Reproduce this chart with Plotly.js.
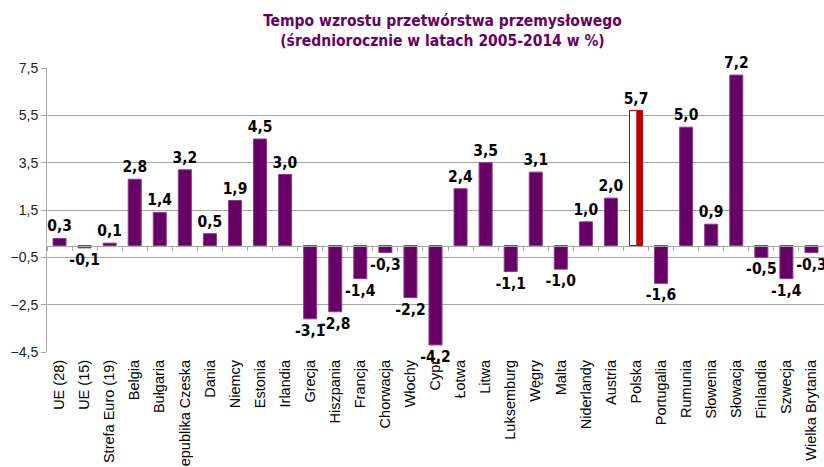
<!DOCTYPE html>
<html>
<head>
<meta charset="utf-8">
<script src="https://cdn.plot.ly/plotly-3.0.1.min.js"></script>
<style>html,body{margin:0;padding:0;background:#fff;}#chart{width:824px;height:467px;}</style>
</head>
<body>
<div id="chart"></div>
<script>
const categories = ["UE (28)","UE (15)","Strefa Euro (19)","Belgia","Bułgaria","Republika Czeska","Dania","Niemcy","Estonia","Irlandia","Grecja","Hiszpania","Francja","Chorwacja","Włochy","Cypr","Łotwa","Litwa","Luksemburg","Węgry","Malta","Niderlandy","Austria","Polska","Portugalia","Rumunia","Słowenia","Słowacja","Finlandia","Szwecja","Wielka Brytania"];
const values = [0.3,-0.1,0.1,2.8,1.4,3.2,0.5,1.9,4.5,3.0,-3.1,-2.8,-1.4,-0.3,-2.2,-4.2,2.4,3.5,-1.1,3.1,-1.0,1.0,2.0,5.7,-1.6,5.0,0.9,7.2,-0.5,-1.4,-0.3];
const highlight = "Polska";
const yTicks = [-4.5,-2.5,-0.5,1.5,3.5,5.5,7.5];

const purple = "#660066";
const red = "#C00000";
const labelFont = "'Liberation Sans Narrow','DejaVu Sans Condensed',Arial,sans-serif";
const axisFont = "'Liberation Sans',Arial,sans-serif";

const fillColors = categories.map(c => c === highlight ? "#ffffff" : purple);
const lineColors = categories.map(c => c === highlight ? red : "#8a3d8a");
const texts = values.map(v => v.toFixed(1).replace('.', ','));

const hiIdx = categories.indexOf(highlight);

const traces = [
  {
    type: "bar", x: categories, y: values,
    marker: {color: fillColors, line: {color: lineColors, width: 1}},
    width: 0.52,
    text: texts, textposition: "outside", cliponaxis: false, constraintext: "none",
    textfont: {family: labelFont, size: 15.5, color: "#000", weight: "bold"},
    hoverinfo: "x+y", showlegend: false
  },
  {
    type: "bar", x: [categories[hiIdx]], y: [values[hiIdx]],
    marker: {color: red, line: {width: 0}},
    width: 0.25, offset: 0.01,
    hoverinfo: "skip", showlegend: false
  },
  {
    type: "scatter", x: categories, y: values.map(() => 0), xaxis: "x2",
    mode: "markers", marker: {opacity: 0}, hoverinfo: "skip", showlegend: false
  }
];

const yMin = yTicks[0], yMax = yTicks[yTicks.length - 1];
const zeroPos = (0 - yMin) / (yMax - yMin);

const layout = {
  width: 824, height: 467,
  margin: {l: 47, r: 0, t: 68, b: 115},
  paper_bgcolor: "#fff", plot_bgcolor: "#fff",
  separators: ", ",
  barmode: "overlay",
  showlegend: false,
  title: {
    text: "<b>Tempo wzrostu przetwórstwa przemysłowego<br>(średniorocznie w latach 2005-2014 w %)</b>",
    font: {family: labelFont, size: 15.5, color: purple},
    x: 0.537, xanchor: "center", y: 0.945, yanchor: "top"
  },
  xaxis: {
    type: "category", categoryorder: "array", categoryarray: categories,
    range: [-0.5, categories.length - 0.5],
    showline: false, showgrid: false, ticks: "", zeroline: false,
    tickangle: -90, tickfont: {family: axisFont, size: 14.5, color: "#000"},
    ticklabelstandoff: 4
  },
  xaxis2: {
    type: "category", categoryorder: "array", categoryarray: categories,
    range: [-0.5, categories.length - 0.5],
    overlaying: "x", anchor: "free", position: zeroPos,
    showline: true, linecolor: "#a6a6a6", linewidth: 1,
    ticks: "outside", tickson: "boundaries", ticklen: 4, tickcolor: "#a6a6a6",
    showticklabels: false, showgrid: false, zeroline: false
  },
  yaxis: {
    range: [yMin, yMax], tickvals: yTicks, tickformat: ".1f",
    showgrid: true, gridcolor: "#a6a6a6", gridwidth: 1,
    zeroline: false, showline: true, linecolor: "#a6a6a6", linewidth: 1,
    ticks: "outside", ticklen: 5, tickcolor: "#a6a6a6",
    tickfont: {family: axisFont, size: 14, color: "#222"}
  }
};

Plotly.newPlot("chart", traces, layout, {displayModeBar: false, staticPlot: true});
</script>
</body>
</html>
